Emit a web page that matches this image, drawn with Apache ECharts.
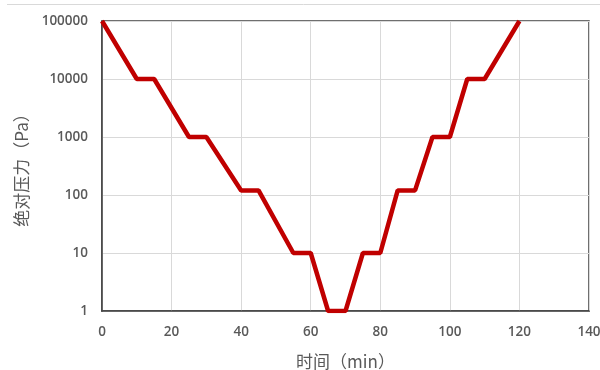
<!DOCTYPE html>
<html><head><meta charset="utf-8">
<script src="https://cdn.jsdelivr.net/npm/echarts@6/dist/echarts.min.js"></script>
<style>html,body{margin:0;padding:0;background:#fff}#c{width:600px;height:370px}</style>
</head><body><div id="c"></div>
<script>
const times = [0,10,15,25,30,40,45,55,60,65,70,75,80,85,90,95,100,105,110,120];
const pressures = [100000,10000,10000,1000,1000,120,120,10,10,1,1,10,10,120,120,1000,1000,10000,10000,100000];
const xTitle = '时间（min）';
const yTitle = '绝对压力（Pa）';
const numFont = '"Open Sans","Noto Sans",sans-serif';
const font = '"Noto Sans CJK SC","Noto Sans",sans-serif';
const chart = echarts.init(document.getElementById('c'));
chart.setOption({
  animation:false,
  graphic:[{type:'line',shape:{x1:7,y1:4.5,x2:600,y2:4.5},style:{stroke:'#d9d9d9',lineWidth:1}}],
  grid:{left:102,right:11,top:21,bottom:59,show:true,borderColor:'#404040',borderWidth:1.5,
    containLabel:false,outerBoundsMode:'none'},
  xAxis:{type:'value',min:0,max:140,interval:20,
    name:xTitle,nameLocation:'middle',nameGap:42,
    nameTextStyle:{color:'#595959',fontSize:17,fontFamily:font},
    axisLine:{show:true,lineStyle:{color:'#404040',width:1.5}},axisTick:{show:false},
    axisLabel:{color:'#595959',fontSize:13.5,margin:14,fontFamily:numFont,fontWeight:600},
    splitLine:{show:true,lineStyle:{color:'#d9d9d9',width:1}}},
  yAxis:{type:'log',logBase:10,min:1,max:100000,
    name:yTitle,nameLocation:'middle',nameGap:72,
    nameTextStyle:{color:'#595959',fontSize:17,fontFamily:font},
    axisLine:{show:true,lineStyle:{color:'#404040',width:1.5}},axisTick:{show:false},
    axisLabel:{color:'#595959',fontSize:13.5,margin:14,fontFamily:numFont,fontWeight:600,
      formatter:v=>String(Math.round(v))},
    splitLine:{show:true,lineStyle:{color:'#d9d9d9',width:1}}},
  series:[{type:'line',data:times.map((t,i)=>[t,pressures[i]]),showSymbol:false,
    lineStyle:{color:'#c00000',width:4.5},itemStyle:{color:'#c00000'}}]
});
</script></body></html>
